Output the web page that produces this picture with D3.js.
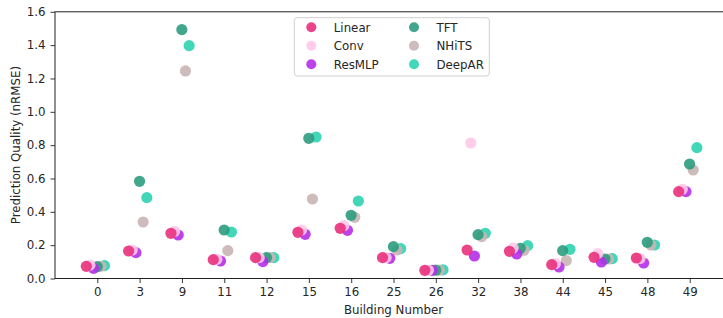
<!DOCTYPE html>
<html>
<head>
<meta charset="utf-8">
<script src="https://cdn.jsdelivr.net/npm/d3@7"></script>
<style>
  html, body { margin: 0; padding: 0; background: #fff; overflow: hidden; }
  svg { display: block; font-family: "DejaVu Sans", sans-serif; }
</style>
</head>
<body>
<svg id="chart" width="723" height="318"></svg>
<script>
// ---- data ----
const buildings = ["0", "3", "9", "11", "12", "15", "16", "25", "26", "32", "38", "44", "45", "48", "49"];
const seriesNames = ["Linear", "Conv", "ResMLP", "TFT", "NHiTS", "DeepAR"];
const linearVals = [0.073, 0.165, 0.271, 0.113, 0.125, 0.277, 0.301, 0.125, 0.049, 0.171, 0.163, 0.083, 0.127, 0.123, 0.521];
const convVals   = [0.080, 0.171, 0.283, 0.115, 0.125, 0.291, 0.317, 0.125, 0.050, 0.813, 0.183, 0.090, 0.149, 0.120, 0.535];
const resmlpVals = [0.061, 0.155, 0.261, 0.105, 0.101, 0.265, 0.289, 0.121, 0.049, 0.135, 0.147, 0.069, 0.099, 0.093, 0.521];
const tftVals    = [0.071, 0.583, 1.493, 0.291, 0.125, 0.841, 0.379, 0.191, 0.050, 0.263, 0.181, 0.167, 0.117, 0.217, 0.687];
const nhitsVals  = [0.073, 0.339, 1.245, 0.167, 0.125, 0.477, 0.367, 0.171, 0.050, 0.251, 0.169, 0.107, 0.117, 0.201, 0.651];
const deeparVals = [0.077, 0.485, 1.397, 0.279, 0.125, 0.849, 0.465, 0.179, 0.052, 0.271, 0.197, 0.175, 0.119, 0.201, 0.785];
const yTicks = [0.0, 0.2, 0.4, 0.6, 0.8, 1.0, 1.2, 1.4, 1.6];
const colors = ["#e8317c", "#ffc6e8", "#b52fe8", "#2c9c7e", "#c9b5b5", "#2fd3b3"];

const seriesVals = [linearVals, convVals, resmlpVals, tftVals, nhitsVals, deeparVals];

// ---- layout ----
const mLeft = 55, mRight = 732, mTop = 11.8, mBottom = 278.5;
const svg = d3.select("#chart");

const x = d3.scaleLinear().domain([-1, 15]).range([mLeft, mRight]);
const y = d3.scaleLinear().domain([0, 1.6]).range([mBottom, mTop]);
const dodge = d3.scalePoint().domain(seriesNames).range([-0.26, 0.17]);
const color = d3.scaleOrdinal().domain(seriesNames).range(colors);

// axes
const xAxis = d3.axisBottom(x).tickValues(d3.range(buildings.length))
  .tickFormat(i => buildings[i]).tickSize(4.5).tickPadding(5);
const yAxis = d3.axisLeft(y).tickValues(yTicks)
  .tickFormat(d3.format(".1f")).tickSize(4.5).tickPadding(5);

const gx = svg.append("g").attr("transform", `translate(0,${mBottom})`).call(xAxis);
const gy = svg.append("g").attr("transform", `translate(${mLeft},0)`).call(yAxis);
[gx, gy].forEach(g => {
  g.select(".domain").remove();
  g.selectAll(".tick line").attr("stroke", "#222").attr("stroke-width", 0.9);
  g.selectAll(".tick text").attr("fill", "#262626").style("font-size", "11.8px")
    .style("font-family", "'DejaVu Sans', sans-serif");
});

// frame (spines)
svg.append("rect").attr("x", mLeft).attr("y", mTop)
  .attr("width", mRight - mLeft).attr("height", mBottom - mTop)
  .attr("fill", "none").attr("stroke", "#222").attr("stroke-width", 1);

// axis labels
svg.append("text").attr("x", (mLeft + mRight) / 2).attr("y", 314)
  .attr("text-anchor", "middle").attr("fill", "#262626").style("font-size", "11.8px")
  .text("Building Number");
svg.append("text").attr("transform", `translate(20,${(mTop + mBottom) / 2}) rotate(-90)`)
  .attr("text-anchor", "middle").attr("fill", "#262626").style("font-size", "11.8px")
  .text("Prediction Quality (nRMSE)");

// points (drawn in reverse order so earlier series sit on top)
const points = [];
seriesNames.forEach((s, si) => {
  seriesVals[si].forEach((v, bi) => points.push({ s, si, bi, v }));
});
points.sort((a, b) => (b.si - a.si) || (a.bi - b.bi));

svg.append("g").selectAll("circle").data(points).join("circle")
  .attr("cx", d => x(d.bi + dodge(d.s)))
  .attr("cy", d => y(d.v))
  .attr("r", 5.6)
  .attr("fill", d => color(d.s))
  .attr("fill-opacity", 0.9);

// legend
const lg = svg.append("g");
lg.append("rect").attr("x", 294.3).attr("y", 17.7).attr("width", 195).attr("height", 58.3)
  .attr("rx", 3).attr("fill", "#fff").attr("fill-opacity", 0.8)
  .attr("stroke", "#d0d0d0").attr("stroke-width", 1);
seriesNames.forEach((s, i) => {
  const col = Math.floor(i / 3), row = i % 3;
  const mx = col === 0 ? 311.3 : 414;
  const my = 27.3 + row * 18.5;
  lg.append("circle").attr("cx", mx).attr("cy", my).attr("r", 5)
    .attr("fill", color(s)).attr("fill-opacity", 0.9);
  lg.append("text").attr("x", mx + 22.5).attr("y", my + 4.3)
    .attr("fill", "#262626").style("font-size", "11.8px").text(s);
});
</script>
</body>
</html>
